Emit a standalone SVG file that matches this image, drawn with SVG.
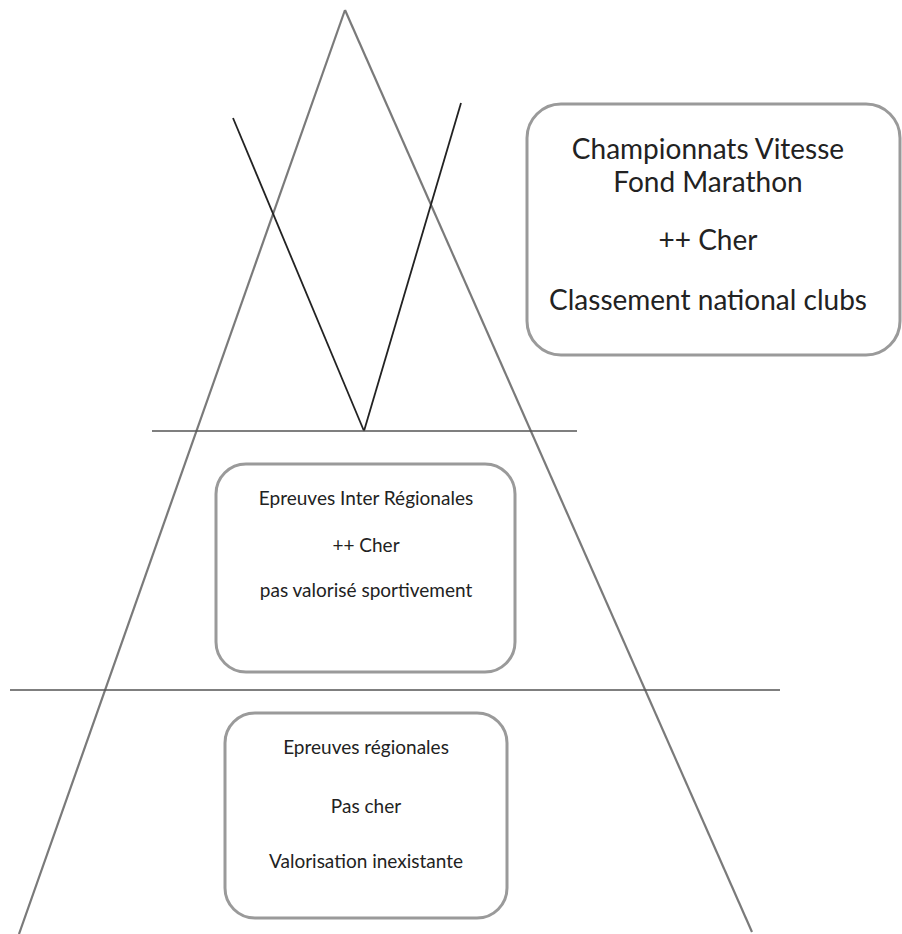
<svg xmlns="http://www.w3.org/2000/svg" width="902" height="934" viewBox="0 0 902 934">
<style>
.leg{stroke:#7a7a7a;stroke-width:2.2;fill:none}
.v{stroke:#222;stroke-width:1.8;fill:none}
.h{stroke:#555;stroke-width:1.5;fill:none}
.box{fill:none;stroke:#9a9a9a;stroke-width:3}
.t{font-family:Lato,"Open Sans","Liberation Sans",sans-serif;fill:#222;text-anchor:middle}
.big{font-size:28px}
.small{font-size:19px}
</style>
<rect width="902" height="934" fill="#fff"/>
<g id="connectors">
<line class="leg" x1="345" y1="10" x2="19" y2="934"/>
<line class="leg" x1="345" y1="10" x2="752" y2="932"/>
<line class="v" x1="233" y1="118" x2="364" y2="431"/>
<line class="v" x1="461" y1="103" x2="364" y2="431"/>
<line class="h" x1="152" y1="431" x2="577" y2="431"/>
<line class="h" x1="10" y1="690" x2="780" y2="690"/>
</g>
<g id="top-box">
<rect class="box" x="527" y="104" width="373" height="251" rx="34"/>
<text class="t big" x="708" y="159">Championnats Vitesse</text>
<text class="t big" x="708" y="192">Fond Marathon</text>
<text class="t big" x="708" y="250">++ Cher</text>
<text class="t big" x="708" y="310">Classement national clubs</text>
</g>
<g id="mid-box">
<rect class="box" x="216" y="464" width="299" height="208" rx="30"/>
<text class="t small" x="366" y="505">Epreuves Inter Régionales</text>
<text class="t small" x="366" y="552">++ Cher</text>
<text class="t small" x="366" y="597">pas valorisé sportivement</text>
</g>
<g id="low-box">
<rect class="box" x="225" y="713" width="282" height="205" rx="30"/>
<text class="t small" x="366" y="754">Epreuves régionales</text>
<text class="t small" x="366" y="813">Pas cher</text>
<text class="t small" x="366" y="868">Valorisation inexistante</text>
</g>
</svg>
